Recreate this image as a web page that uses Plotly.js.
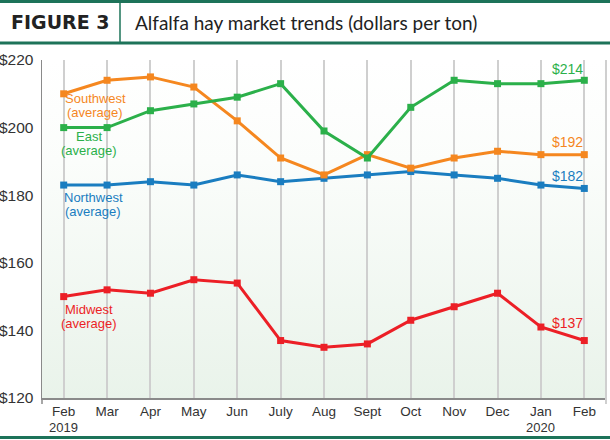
<!DOCTYPE html>
<html>
<head>
<meta charset="utf-8">
<script src="https://cdn.plot.ly/plotly-3.0.1.min.js"></script>
<style>
  html, body { margin: 0; padding: 0; background: #ffffff; }
  #chart { width: 610px; height: 440px; }
</style>
</head>
<body>
<div id="chart"></div>
<script>
// Monthly alfalfa hay prices, Feb 2019 – Feb 2020 (dollars per ton)
const months = ['Feb', 'Mar', 'Apr', 'May', 'Jun', 'July', 'Aug', 'Sept', 'Oct', 'Nov', 'Dec', 'Jan', 'Feb'];
const years = [{ index: 0, text: '2019' }, { index: 11, text: '2020' }];
const southwest = [210, 214, 215, 212, 202, 191, 186, 192, 188, 191, 193, 192, 192];
const east      = [200, 200, 205, 207, 209, 213, 199, 191, 206, 214, 213, 213, 214];
const northwest = [183, 183, 184, 183, 186, 184, 185, 186, 187, 186, 185, 183, 182];
const midwest   = [150, 152, 151, 155, 154, 137, 135, 136, 143, 147, 151, 141, 137];
const yTicks = [120, 140, 160, 180, 200, 220];

const W = 610, H = 440;
const M = { l: 42, r: 4, t: 60, b: 42 };
const plotW = W - M.l - M.r, plotH = H - M.t - M.b;
// pixel -> paper coordinates, for header and frame decorations
const px = x => (x - M.l) / plotW;
const py = y => (H - M.b - y) / plotH;

const SANS = '"Liberation Sans", Arial, sans-serif';
const C = { sw: '#f5871f', east: '#2bb04a', nw: '#1a7dc0', mw: '#ec1f26', frame: '#1d7359', text: '#333333' };

const idx = months.map((_, i) => i);
function series(name, vals, color) {
  return {
    type: 'scatter', mode: 'lines+markers', name: name,
    x: idx, y: vals,
    line: { color: color, width: 3 },
    marker: { color: color, symbol: 'square', size: 7 },
    hoverinfo: 'skip', cliponaxis: false
  };
}
const traces = [
  series('Northwest', northwest, C.nw),
  series('Midwest', midwest, C.mw),
  series('Southwest', southwest, C.sw),
  series('East', east, C.east)
];

const last = months.length - 1;
// two-line series captions, set line by line for tight leading
function seriesLabel(lines, x, y, color) {
  return lines.map((t, i) => ({
    text: t, xref: 'paper', yref: 'paper', x: px(x), y: py(y + i * 14.5), showarrow: false,
    xanchor: 'center', yanchor: 'middle', borderpad: 0,
    font: { family: SANS, size: 13, color: color }
  }));
}
function endLabel(vals, yPix, color) {
  return { text: '$' + vals[last], x: last, xref: 'x', yref: 'paper', y: py(yPix), showarrow: false,
           xanchor: 'right', xshift: 1, yanchor: 'middle',
           font: { family: SANS, size: 14, color: color } };
}
const yearLabels = years.map(yr => ({
  text: yr.text, x: yr.index, xref: 'x', yref: 'paper', y: py(427), showarrow: false,
  xanchor: 'center', yanchor: 'middle', borderpad: 0,
  font: { family: SANS, size: 13, color: C.text }
}));

const gradient = 'data:image/svg+xml;utf8,' + encodeURIComponent(
  '<svg xmlns="http://www.w3.org/2000/svg" width="10" height="100" preserveAspectRatio="none">' +
  '<defs><linearGradient id="g" x1="0" y1="0" x2="0" y2="1">' +
  '<stop offset="0" stop-color="#ffffff"/><stop offset="0.3" stop-color="#fbfdfb"/><stop offset="1" stop-color="#e9f3ea"/>' +
  '</linearGradient></defs><rect width="10" height="100" fill="url(#g)"/></svg>');

const layout = {
  width: W, height: H,
  margin: M,
  paper_bgcolor: '#ffffff',
  plot_bgcolor: 'rgba(0,0,0,0)',
  showlegend: false,
  xaxis: {
    range: [-0.5, 12.5], tickvals: idx, ticktext: months,
    showgrid: true, gridcolor: '#cfcfcf', gridwidth: 2,
    zeroline: false, showline: true, linecolor: '#8a8a8a', linewidth: 1.5,
    ticks: '', ticklabelstandoff: 0,
    tickfont: { family: SANS, size: 13.5, color: C.text }
  },
  yaxis: {
    range: [120, 220], tickvals: yTicks, ticktext: yTicks.map(v => '$' + v),
    showgrid: false, zeroline: false, showline: true, linecolor: '#8a8a8a', linewidth: 1.5,
    ticks: '', ticklabelstandoff: 4,
    tickfont: { family: SANS, size: 15.5, color: C.text }
  },
  images: [{ source: gradient, xref: 'paper', yref: 'paper', x: 0, y: 1, sizex: 1, sizey: 1,
             sizing: 'stretch', layer: 'below' }],
  shapes: [
    // header rules and divider
    { type: 'line', xref: 'paper', yref: 'paper', x0: px(0), x1: px(W), y0: py(1.5), y1: py(1.5), line: { color: C.frame, width: 3 } },
    { type: 'line', xref: 'paper', yref: 'paper', x0: px(0), x1: px(W), y0: py(43), y1: py(43), line: { color: C.frame, width: 3 } },
    { type: 'line', xref: 'paper', yref: 'paper', x0: px(120), x1: px(120), y0: py(2), y1: py(43), line: { color: C.frame, width: 1.5 } },
    // bottom rule
    { type: 'line', xref: 'paper', yref: 'paper', x0: px(0), x1: px(W), y0: py(437.5), y1: py(437.5), line: { color: C.frame, width: 3 } },
    // right frame edge and the small end ticks below the x axis
    { type: 'line', xref: 'paper', yref: 'paper', x0: 1, x1: 1, y0: py(404), y1: 1, line: { color: '#cfcfcf', width: 2 } },
    { type: 'line', xref: 'paper', yref: 'paper', x0: 0, x1: 0, y0: py(404), y1: 0, line: { color: '#8a8a8a', width: 1.5 } }
  ],
  annotations: [
    { text: '<b>FIGURE 3</b>', xref: 'paper', yref: 'paper', x: px(9), y: py(22), showarrow: false,
      xanchor: 'left', yanchor: 'middle', font: { family: '"DejaVu Sans", sans-serif', size: 19, color: '#222222' } },
    { text: 'Alfalfa hay market trends (dollars per ton)', xref: 'paper', yref: 'paper', x: px(133), y: py(22),
      showarrow: false, xanchor: 'left', yanchor: 'middle',
      font: { family: 'Lato, "Open Sans", sans-serif', size: 19, color: '#222222' } },
    ...seriesLabel(['Southwest', '(average)'], 95, 98, C.sw),
    ...seriesLabel(['East', '(average)'], 88.5, 136, C.east),
    ...seriesLabel(['Northwest', '(average)'], 93, 197, C.nw),
    ...seriesLabel(['Midwest', '(average)'], 88.5, 309, C.mw),
    endLabel(east, 69, C.east),
    endLabel(southwest, 142, C.sw),
    endLabel(northwest, 176, C.nw),
    endLabel(midwest, 323, C.mw),
    ...yearLabels
  ]
};

Plotly.newPlot('chart', traces, layout, { staticPlot: true, displayModeBar: false });
</script>
</body>
</html>
